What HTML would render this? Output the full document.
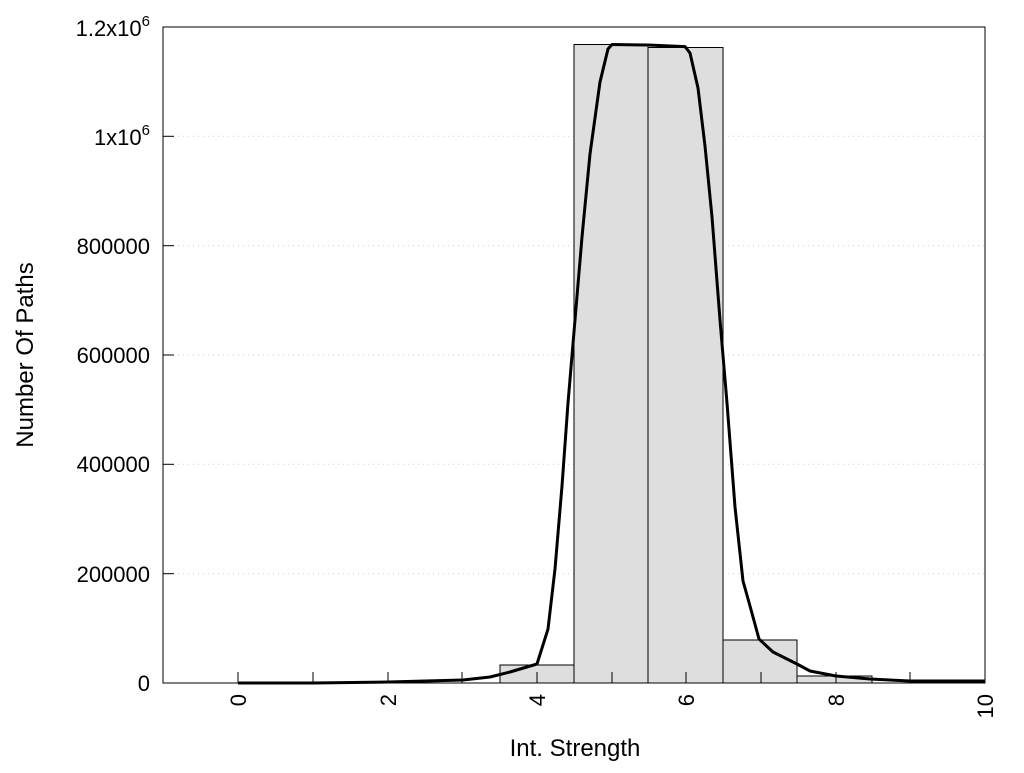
<!DOCTYPE html>
<html><head><meta charset="utf-8"><style>body{margin:0;background:#fff}</style></head><body>
<svg width="1024" height="768" xmlns="http://www.w3.org/2000/svg" font-family="Liberation Sans, sans-serif">
<rect width="1024" height="768" fill="#fff"/>
<g stroke="#ccc" stroke-dasharray="1,4" stroke-width="1">
<line x1="163" x2="985" y1="573.7" y2="573.7"/>
<line x1="163" x2="985" y1="464.3" y2="464.3"/>
<line x1="163" x2="985" y1="355" y2="355"/>
<line x1="163" x2="985" y1="245.7" y2="245.7"/>
<line x1="163" x2="985" y1="136.3" y2="136.3"/>
</g>
<g fill="#dedede" stroke="#000" stroke-width="1">
<rect x="500" y="665" width="74" height="18"/>
<rect x="574" y="44.5" width="74" height="638.5"/>
<rect x="648" y="47.5" width="75" height="635.5"/>
<rect x="723" y="640" width="74" height="43"/>
<rect x="797" y="676" width="75" height="7"/>
</g>
<g stroke="#000" stroke-width="1">
<line x1="238" x2="238" y1="683" y2="672"/><line x1="313" x2="313" y1="683" y2="672"/>
<line x1="388" x2="388" y1="683" y2="672"/><line x1="462" x2="462" y1="683" y2="672"/>
<line x1="537" x2="537" y1="683" y2="672"/><line x1="612" x2="612" y1="683" y2="672"/>
<line x1="686" x2="686" y1="683" y2="672"/><line x1="761" x2="761" y1="683" y2="672"/>
<line x1="836" x2="836" y1="683" y2="672"/><line x1="910" x2="910" y1="683" y2="672"/>
<line x1="163" x2="174" y1="573.7" y2="573.7"/><line x1="163" x2="174" y1="464.3" y2="464.3"/>
<line x1="163" x2="174" y1="355" y2="355"/><line x1="163" x2="174" y1="245.7" y2="245.7"/>
<line x1="163" x2="174" y1="136.3" y2="136.3"/>
</g>
<rect x="163" y="27" width="822" height="656" fill="none" stroke="#000" stroke-width="1"/>
<polyline fill="none" stroke="#000" stroke-width="3" stroke-linejoin="round" points="238,683 313,683 388,682 463,680 490,677 510,672 537,664 548,629 555,569 562,486 568,403 575,320 582,237 590,154 600,82 608,49 612,44.5 648,45 685,46.6 690,53 698,88 705,146 712,217 720,320 727,403 735,507 743,581 750,606 759,639 773,652 797,664 810,671 836,676 870,679 910,681 985,681"/>
<g font-size="22" text-anchor="end">
<text x="150" y="691">0</text>
<text x="150" y="582">200000</text>
<text x="150" y="472">400000</text>
<text x="150" y="363">600000</text>
<text x="150" y="254">800000</text>
<text x="150" y="145">1x10<tspan font-size="15" dy="-10">6</tspan></text>
<text x="150" y="36">1.2x10<tspan font-size="15" dy="-10">6</tspan></text>
</g>
<g font-size="22" text-anchor="end">
<text transform="translate(246,694) rotate(-90)">0</text>
<text transform="translate(396,694) rotate(-90)">2</text>
<text transform="translate(545,694) rotate(-90)">4</text>
<text transform="translate(694,694) rotate(-90)">6</text>
<text transform="translate(844,694) rotate(-90)">8</text>
<text transform="translate(993,694) rotate(-90)">10</text>
</g>
<text x="575" y="756" font-size="24" text-anchor="middle">Int. Strength</text>
<text transform="translate(33,355) rotate(-90)" font-size="24" text-anchor="middle">Number Of Paths</text>
</svg>
</body></html>
